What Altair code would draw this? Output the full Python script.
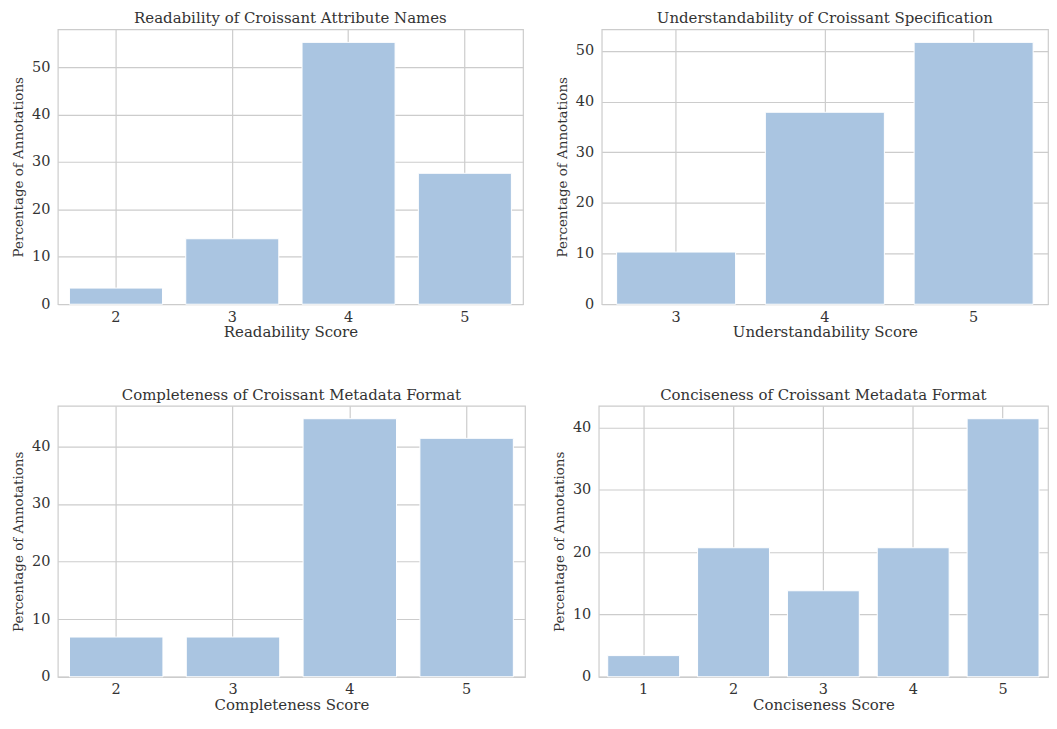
import altair as alt
import pandas as pd

# ---- data ----
readability_scores = ["2", "3", "4", "5"]
readability_pct = [3.4, 13.8, 55.2, 27.6]

understand_scores = ["3", "4", "5"]
understand_pct = [10.3, 37.9, 51.7]

complete_scores = ["2", "3", "4", "5"]
complete_pct = [6.9, 6.9, 44.8, 41.4]

concise_scores = ["1", "2", "3", "4", "5"]
concise_pct = [3.4, 20.7, 13.8, 20.7, 41.4]

BAR = "#aac5e1"
TXT = "#333333"
GRID = "#cccccc"
FONT = "DejaVu Serif"


def panel(scores, pct, title, xtitle, yticks, width, height, ytp=6):
    df = pd.DataFrame({"score": scores, "pct": pct})
    ymax = max(pct) * 1.05
    return (
        alt.Chart(df, title=alt.Title(title, fontSize=15, font=FONT, fontWeight="normal",
                                      color=TXT, offset=3))
        .mark_bar(color=BAR, stroke="white", strokeWidth=1)
        .encode(
            x=alt.X("score:N", title=xtitle, sort=None,
                    scale=alt.Scale(paddingInner=0.2, paddingOuter=0.1),
                    axis=alt.Axis(labelAngle=0, bandPosition=0.5, grid=True, ticks=False,
                                  domain=False, labelPadding=6, titlePadding=1,
                                  titleFontSize=15)),
            y=alt.Y("pct:Q", title="Percentage of Annotations",
                    scale=alt.Scale(domain=[0, ymax], nice=False, zero=True),
                    axis=alt.Axis(values=yticks, grid=True, ticks=False, domain=False,
                                  labelPadding=8, titlePadding=ytp, titleFontSize=13.5)),
        )
        .properties(width=width, height=height)
    )


p1 = panel(readability_scores, readability_pct, "Readability of Croissant Attribute Names",
           "Readability Score", [0, 10, 20, 30, 40, 50], 467, 276)
p2 = panel(understand_scores, understand_pct, "Understandability of Croissant Specification",
           "Understandability Score", [0, 10, 20, 30, 40, 50], 448, 276)
p3 = panel(complete_scores, complete_pct, "Completeness of Croissant Metadata Format",
           "Completeness Score", [0, 10, 20, 30, 40], 469, 272)
p4 = panel(concise_scores, concise_pct, "Conciseness of Croissant Metadata Format",
           "Conciseness Score", [0, 10, 20, 30, 40], 451, 272)

row1 = alt.hconcat(p1, p2, spacing=30)
row2 = alt.hconcat(p3, p4, spacing=25)

chart = (
    alt.vconcat(row1, row2, spacing=46)
    .properties(padding={"left": 2, "top": 1, "right": 0, "bottom": 0}, background="white")
    .configure_view(stroke=GRID, strokeWidth=1.2)
    .configure_axis(labelFont=FONT, titleFont=FONT, labelFontSize=14.5,
                    labelColor=TXT, titleColor=TXT, titleFontWeight="normal",
                    gridColor=GRID, gridWidth=1.2, gridOpacity=1)
)

chart.save("out.html", embed_options={"renderer": "svg", "actions": False})
